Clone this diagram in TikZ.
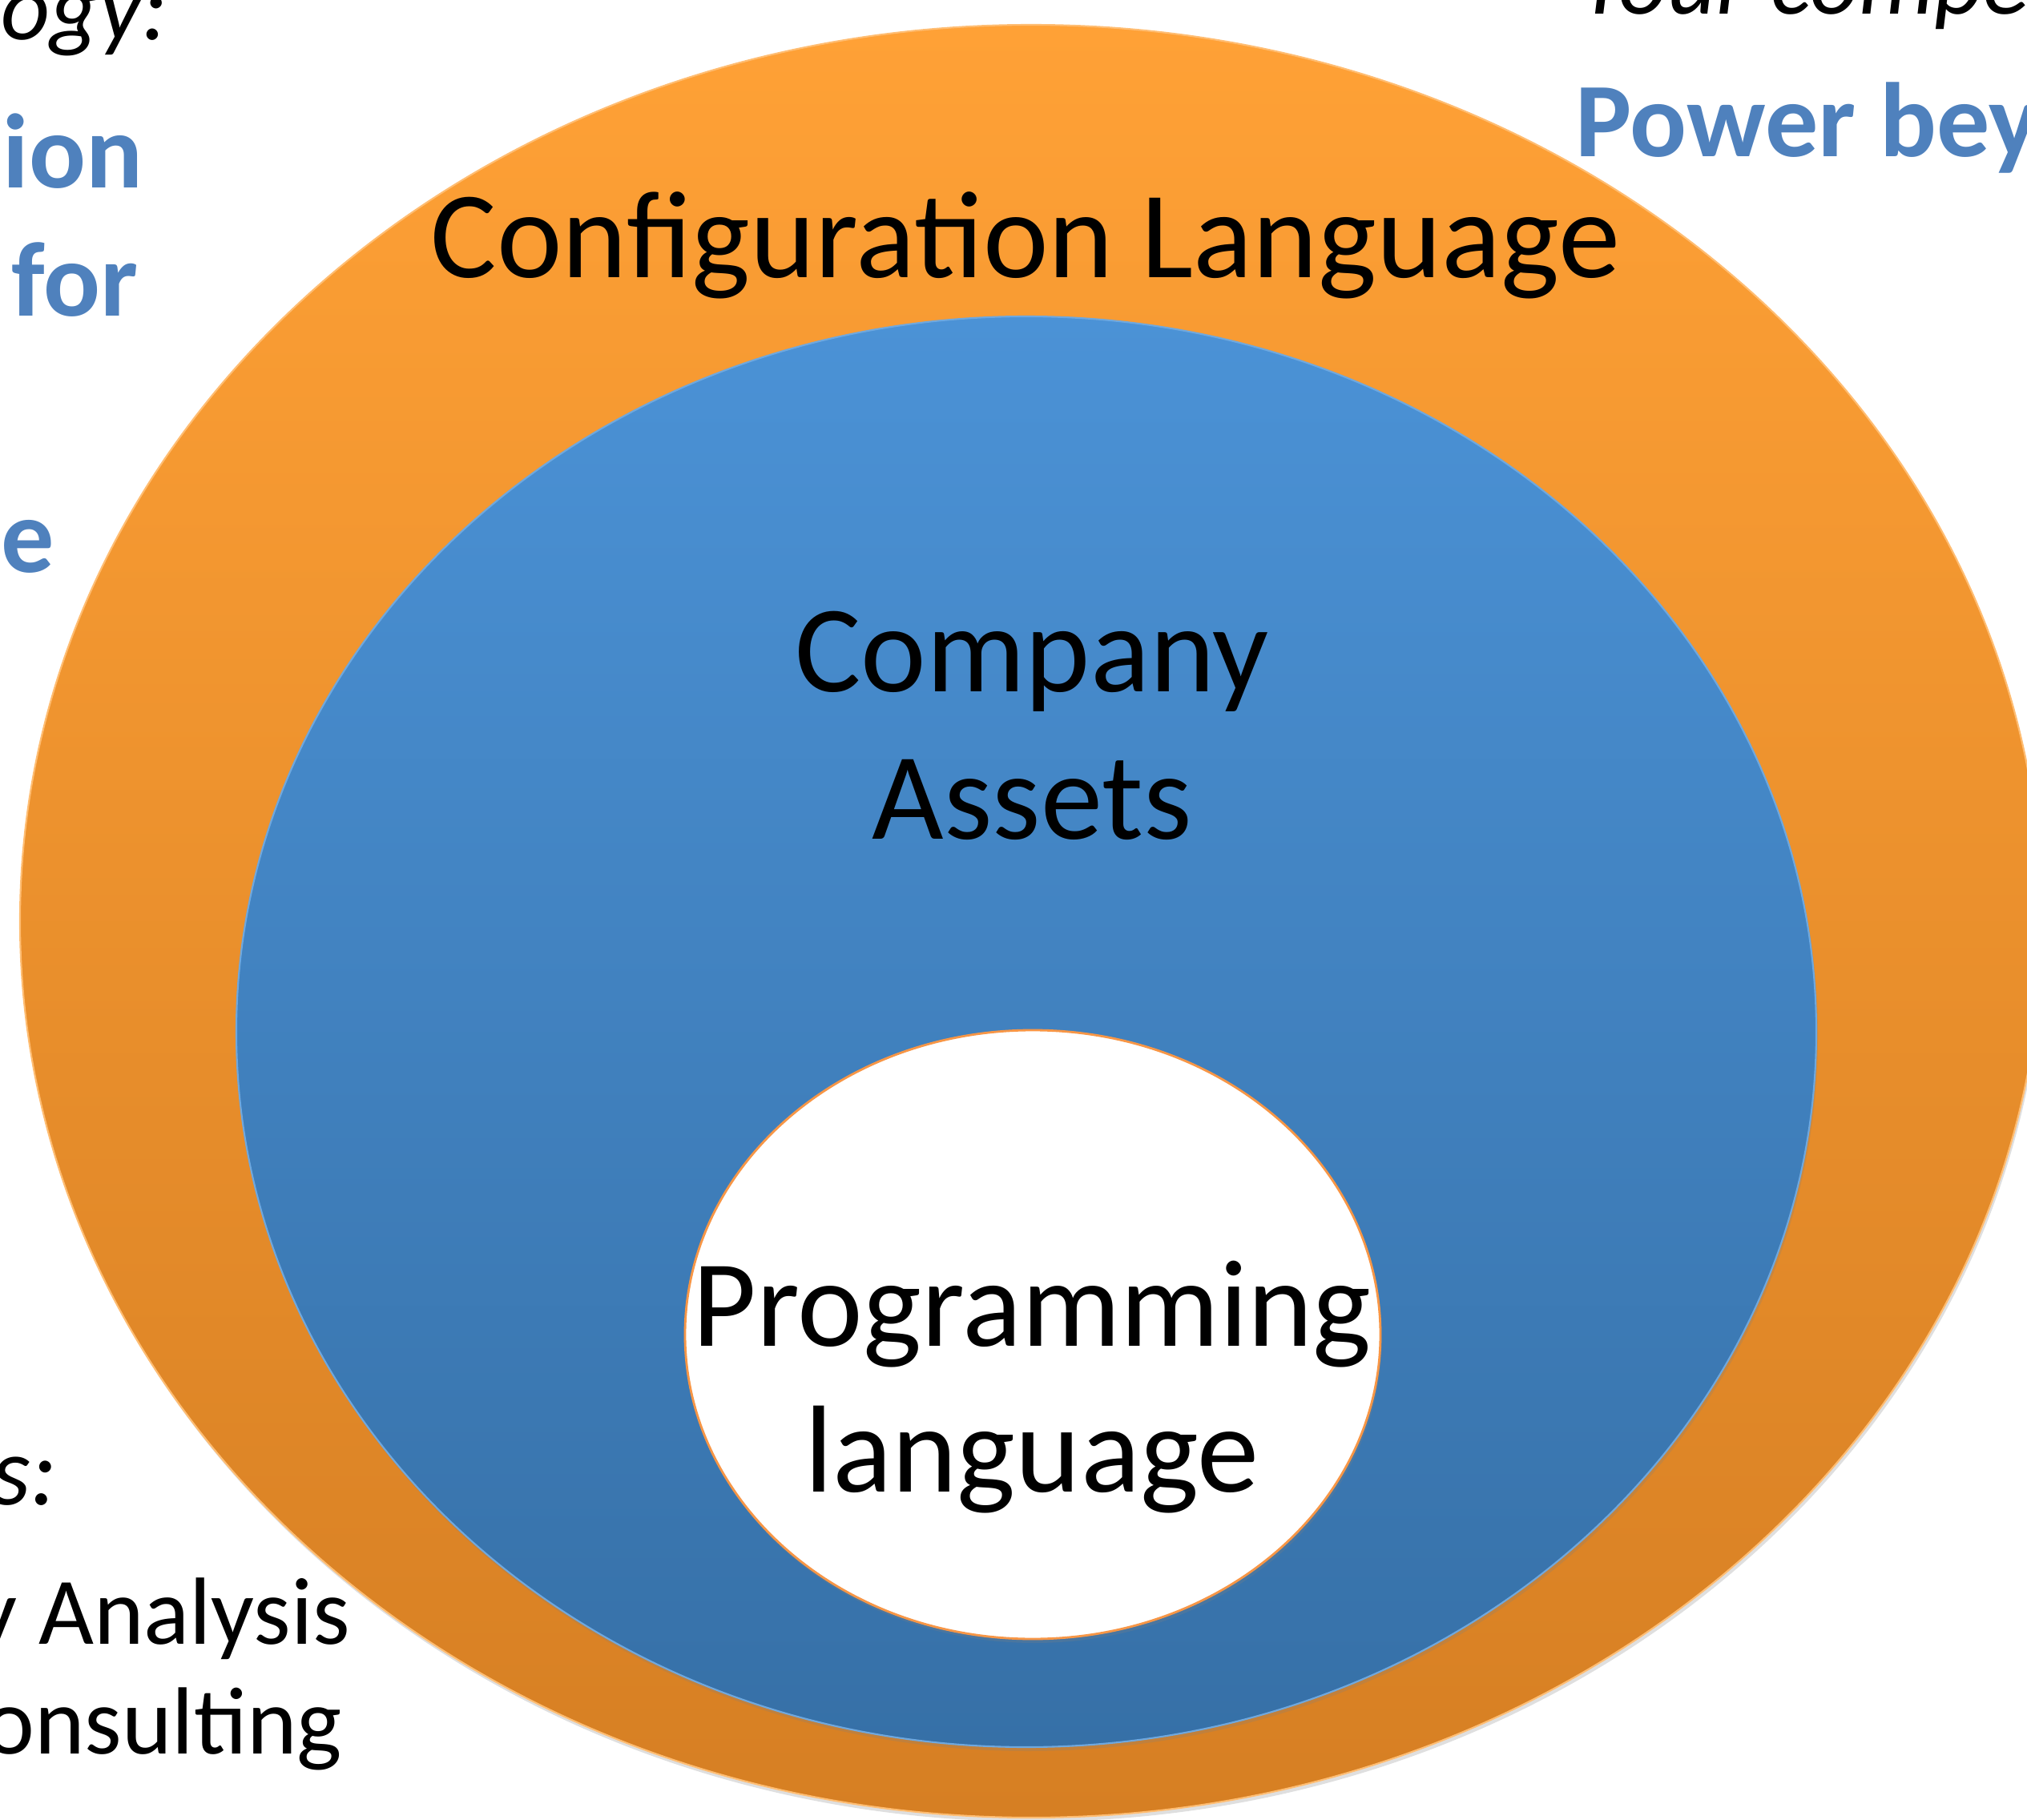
\documentclass[tikz,border=0pt]{standalone}
\usepackage{fontspec}
\setmainfont{Carlito}
\usetikzlibrary{shapes.geometric}
\usetikzlibrary{shadows}
\usetikzlibrary{positioning}

\definecolor{orangetop}{RGB}{255,161,54}
\definecolor{orangebot}{RGB}{214,127,35}
\definecolor{bluetop}{RGB}{75,146,214}
\definecolor{bluebot}{RGB}{54,112,167}
\definecolor{sideblue}{RGB}{79,129,189}
\definecolor{rimorange}{RGB}{247,150,70}

\begin{document}
\begin{tikzpicture}[
      blob/.style={ellipse,inner sep=0pt,
        drop shadow={opacity=0.25,shadow xshift=0.02cm,shadow yshift=-0.05cm}},
      biglabel/.style={font=\fontsize{44}{53}\selectfont,anchor=base,inner sep=0pt},
      bluelabel/.style={font=\fontsize{37.6}{45}\selectfont\bfseries,text=sideblue,inner sep=0pt},
      blacklabel/.style={font=\fontsize{33.9}{40}\selectfont,inner sep=0pt},
    ]
        \useasboundingbox (0,0) rectangle (25.30,-22.72);

        % the three sets
        \node[blob,minimum width=25.24cm,minimum height=22.38cm,
            top color=orangetop,bottom color=orangebot,
            draw=orangetop!70!white,line width=0.6pt] (config) at (12.87,-11.50) {};
        \node[blob,minimum width=19.72cm,minimum height=17.86cm,
            top color=bluetop,bottom color=bluebot,
            draw=bluetop!80!white,line width=0.6pt] (assets) at (12.81,-12.88) {};
        \node[blob,minimum width=8.68cm,minimum height=7.60cm,
            fill=white,draw=rimorange,line width=0.8pt] (prog) at (12.89,-16.66) {};

        \node[biglabel] (configtext) at (12.80,-3.47) {Configuration Language};
        \node[biglabel] (companytext) at (12.88,-8.63) {Company};
        \node[biglabel] (assetstext) at ([yshift=-1.84cm]companytext.base) {Assets};
        \node[biglabel] (progtext) at (12.88,-16.80) {Programming};
        \node[biglabel] (langtext) at ([yshift=-1.82cm]progtext.base) {language};

        % text of the slide round the picture
        \node[blacklabel,anchor=base east,font=\fontsize{33.9}{40}\selectfont\itshape] (ogy) at (2.10,-0.50) {ogy:};
        \node[bluelabel,anchor=base east] (ion) at (1.79,-2.35) {ion};
        \node[bluelabel,anchor=base east] (for) at (1.73,-3.95) {for};
        \node[bluelabel,anchor=base east] (e) at (0.69,-7.15) {e};
        \node[blacklabel,anchor=base east,font=\fontsize{35}{40}\selectfont\itshape] (s) at (0.72,-18.78) {s:};
        \node[blacklabel,anchor=base east] (analysis) at (4.38,-20.52) {y Analysis};
        \node[blacklabel,anchor=base east] (consulting) at (4.28,-21.89) {onsulting};

        \node[blacklabel,anchor=base west,font=\fontsize{33.9}{40}\selectfont\itshape] (yours) at (19.70,-0.18) {Your compe};
        \node[bluelabel,anchor=base west] (power) at (19.66,-1.96) {Power bey};
    \end{tikzpicture}
\end{document}
